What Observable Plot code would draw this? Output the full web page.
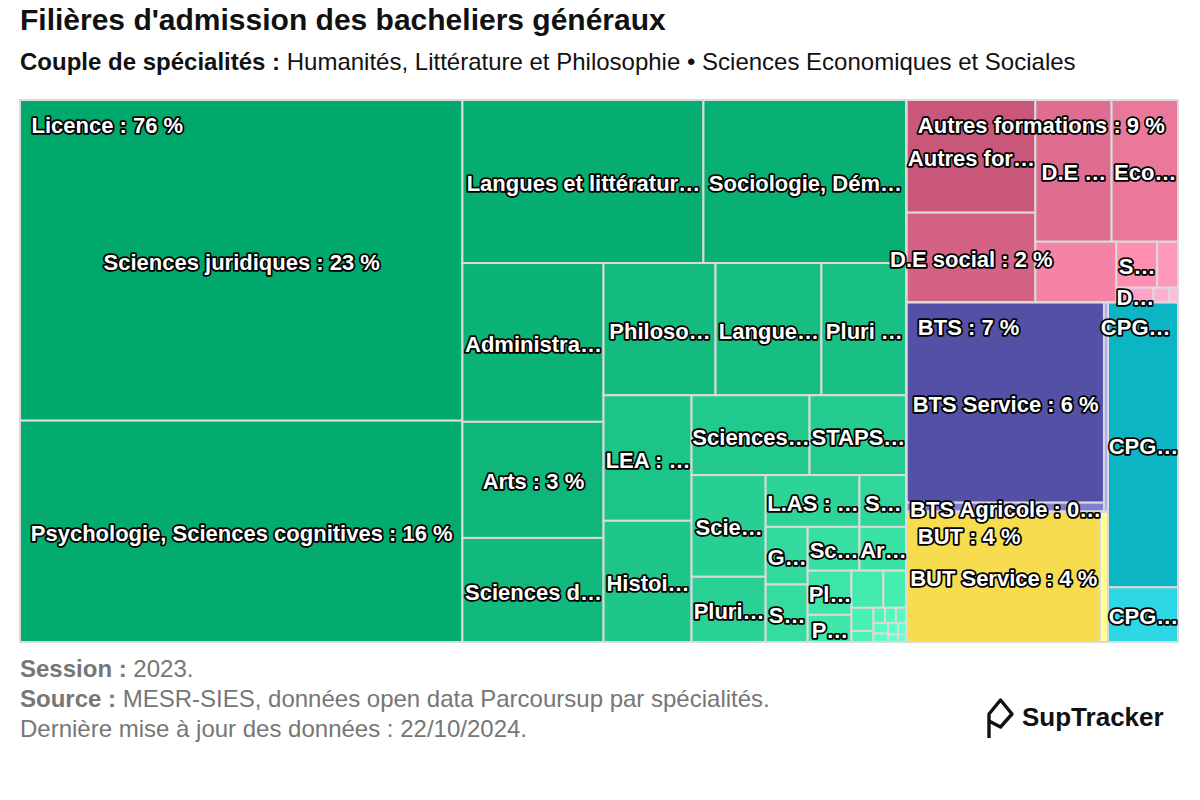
<!DOCTYPE html>
<html lang="fr">
<head>
<meta charset="utf-8">
<script src="https://cdn.jsdelivr.net/npm/d3@7"></script>
<script src="https://cdn.jsdelivr.net/npm/@observablehq/plot@0.6"></script>
<style>
  html, body { margin: 0; padding: 0; background: #fff; }
  body { width: 1200px; height: 800px; position: relative; overflow: hidden;
         font-family: "Liberation Sans", Arial, Helvetica, sans-serif; }
  .abs { position: absolute; white-space: nowrap; }
  #title { left: 20px; top: 5px; font-size: 30px; line-height: 30px; font-weight: bold; color: #111; }
  #subtitle { left: 20px; top: 50px; font-size: 24px; line-height: 24px; color: #111; }
  #chart { left: 0; top: 99px; }
  #footer { left: 20px; top: 654px; font-size: 24px; line-height: 30px; color: #767676; }
  #logo { left: 984px; top: 694px; display: flex; align-items: center; }
  #logo span { font-size: 26px; font-weight: bold; color: #111; margin-left: 4px; }
</style>
</head>
<body>
<div id="title" class="abs">Filières d'admission des bacheliers généraux</div>
<div id="subtitle" class="abs"><b>Couple de spécialités :</b> Humanités, Littérature et Philosophie • Sciences Economiques et Sociales</div>
<div id="chart" class="abs"></div>
<div id="footer" class="abs"><b>Session :</b> 2023.<br><b>Source :</b> MESR-SIES, données open data Parcoursup par spécialités.<br>Dernière mise à jour des données : 22/10/2024.</div>
<div id="logo" class="abs">
  <svg width="34" height="46" viewBox="984 694 34 46"><path d="M989,738 L989,714 L1000.5,700 L1012,714 L1000.5,727 L989,721" fill="none" stroke="#111" stroke-width="3.4" stroke-linejoin="round" stroke-linecap="butt"/></svg>
  <span>SupTracker</span>
</div>
<script>
// ---------------- DATA (share of admitted candidates, %) ----------------
const groupNames  = ["Licence", "Autres formations", "BTS", "BUT", "CPGE"];
const groupLabels = ["Licence : 76 %", "Autres formations : 9 %", "BTS : 7 %", "BUT : 4 %", "CPGE : 4 %"];

const licenceLabels = [
  "Sciences juridiques : 23 %", "Psychologie, Sciences cognitives : 16 %",
  "Langues et littératur…", "Sociologie, Dém…",
  "Administra…", "Arts : 3 %", "Sciences d…",
  "Philoso…", "Langue…", "Pluri …",
  "LEA : …", "Histoi…",
  "Sciences…", "STAPS…",
  "Scie…", "Pluri…",
  "L.AS : …", "S…",
  "G…", "S…",
  "Sc…", "Ar…",
  "Pl…", "P…",
  "", "", "", "", "", "", "", "", "", "", "", "", ""
];
const licenceValues = [
  22.6, 15.6,
  6.26, 5.27,
  3.57, 2.61, 2.34,
  2.36, 2.23, 1.79,
  1.76, 1.70,
  1.50, 1.23,
  1.20, 0.77,
  0.774, 0.387,
  0.386, 0.385,
  0.362, 0.327,
  0.308, 0.189,
  0.189, 0.136, 0.081, 0.039, 0.028, 0.026, 0.025, 0.025, 0.02, 0.018, 0.015, 0.012, 0.01
];

const autresLabels = ["Autres for…", "D.E social : 2 %", "D.E …", "Eco…", "", "S…", "", "D…", "", ""];
const autresValues = [2.316, 1.842, 1.72, 1.50, 0.78, 0.299, 0.153, 0.086, 0.036, 0.021];

const btsLabels = ["BTS Service : 6 %", "BTS Agricole : 0…", ""];
const btsValues = [6.31, 0.284, 0.134];

const butLabels = ["BUT Service : 4 %", ""];
const butValues = [4.02, 0.166];

const cpgeLabels = ["CPG…", "CPG…"];
const cpgeValues = [3.18, 0.61];

const childLabels = [licenceLabels, autresLabels, btsLabels, butLabels, cpgeLabels];
const childValues = [licenceValues, autresValues, btsValues, butValues, cpgeValues];

// ---------------- STYLE ----------------
const groupColors = ["#00a86b", "#c8577a", "#5450a6", "#f6dc4e", "#0bb5c4"];
const colorVariation = [0.4, 0.43, 0.53, 0.53, 0.27];
const FONT = "'Liberation Sans', Arial, Helvetica, sans-serif";
const LABEL_SIZE = 22;

// ---------------- LAYOUT (squarified, alternating direction) ----------------
const W = 1158, H = 542;

function makeGroup(h, w, d, plot) {
  const ar = (a, b) => Math.max(a / b, b / a);
  const g = { height: h, width: w, plot, direction: d, total: 0, nW: 0, lW: 0, nH: 0, lH: 0, elArr: [],
              lP: { total: 0, lH: 0, nH: 0, lW: 0, nW: 0, nR: 0, lR: 0 } };
  g.addElement = el => {
    g.lP.total = g.elArr[g.elArr.length - 1];
    g.total += el;
    if (g.direction === 0) {
      g.lW = g.nW;
      g.lP.lH = g.lP.total / g.lW;
      g.lP.lR = ar(g.lW, g.lP.lH);
      g.nW = g.total / g.height;
      g.lP.nH = g.lP.total / g.nW;
      g.lP.nR = ar(g.nW, g.lP.nH);
    } else {
      g.lH = g.nH;
      g.lP.lW = g.lP.total / g.lH;
      g.lP.lR = ar(g.lP.lW, g.lH);
      g.nH = g.total / g.width;
      g.lP.nW = g.lP.total / g.nH;
      g.lP.nR = ar(g.lP.nW, g.nH);
    }
    g.elArr.push(el);
  };
  g.reset = () => { g.nW = 0; g.lW = 0; g.elArr = []; g.total = 0; };
  return g;
}
function calcPoints(last, g, out) {
  const plot = g.plot;
  let gW = g.lW, gH = g.lH, keep;
  if (last) { gW = g.nW; gH = g.nH; } else { keep = g.elArr[g.elArr.length - 1]; }
  const end = g.elArr.length - 1;
  g.elArr.forEach((p, i) => {
    if (last || i < end) {
      let pW, pH;
      if (g.direction === 0) { pW = gW; pH = p / pW; } else { pH = gH; pW = p / pH; }
      out.push({ x: plot.x, y: plot.y, width: pW, height: pH });
      if (g.direction === 0) plot.y += pH; else plot.x += pW;
    }
  });
  g.reset();
  if (g.direction === 0) g.width -= gW; else g.height -= gH;
  plot.y = plot.parent.y + (plot.parent.height - g.height);
  plot.x = plot.parent.x + (plot.parent.width - g.width);
  g.direction = 1 - g.direction;
  if (!last) g.addElement(keep);
}
function tile(parent, values) {
  const total = d3.sum(values);
  const out = [];
  const plot = { x: parent.x, y: parent.y, parent };
  const g = makeGroup(parent.height, parent.width, 0, plot);
  values.forEach((v, i) => {
    g.addElement(parent.width * parent.height * (v / total));
    if (g.lP.nR > g.lP.lR) calcPoints(false, g, out);
    if (i === values.length - 1) calcPoints(true, g, out);
  });
  return out;
}

function brighten(hex, a) {
  const c = d3.rgb(hex), k = Math.round(a * 255);
  const cl = v => Math.max(0, Math.min(255, v + k));
  return d3.rgb(cl(c.r), cl(c.g), cl(c.b)).formatHex();
}

const groupValues = childValues.map(v => d3.sum(v));
const groupRects = tile({ x: 0, y: 0, width: W, height: H }, groupValues);

const groups = [], leaves = [];
groupRects.forEach((r, gi) => {
  groups.push({ x0: r.x, y0: r.y, x1: r.x + r.width, y1: r.y + r.height, name: groupNames[gi], label: groupLabels[gi] });
  const kids = tile(r, childValues[gi]);
  const n = kids.length;
  kids.forEach((k, i) => {
    leaves.push({
      x0: k.x, y0: k.y, x1: k.x + k.width, y1: k.y + k.height,
      label: childLabels[gi][i], value: childValues[gi][i],
      color: brighten(groupColors[gi], colorVariation[gi] * i / n)
    });
  });
});

// group label: left aligned, kept inside the plotting area (truncated if needed)
const ctx = document.createElement("canvas").getContext("2d");
ctx.font = `bold ${LABEL_SIZE}px ${FONT}`;
groups.forEach(g => {
  let t = g.label;
  const avail = g.x1 - g.x0;
  if (ctx.measureText(t).width > avail + 4) {
    while (t.length > 1 && ctx.measureText(t + "…").width > avail) t = t.slice(0, -1);
    t = t.trimEnd() + "…";
  }
  g.shown = t;
  const w = ctx.measureText(t).width;
  g.lx = Math.min(g.x0 + 11, W - 8 - w);
});

const chart = Plot.plot({
  width: 1200, height: 546,
  marginLeft: 20, marginRight: 22, marginTop: 1, marginBottom: 3,
  x: { domain: [0, W], range: [20, 1178], axis: null },
  y: { domain: [0, H], range: [1, 543], axis: null },
  color: { type: "identity" },
  style: { fontFamily: FONT, background: "white", overflow: "visible" },
  marks: [
    Plot.rect(leaves, { x1: "x0", x2: "x1", y1: "y0", y2: "y1", fill: "color", stroke: "#dadada", strokeWidth: 2 }),
    Plot.rect(groups, { x1: "x0", x2: "x1", y1: "y0", y2: "y1", fill: "none", stroke: "#dadada", strokeWidth: 2 }),
    Plot.text(leaves.filter(d => d.label), {
      x: d => (d.x0 + d.x1) / 2, y: d => (d.y0 + d.y1) / 2 + 2, text: "label",
      fill: "white", stroke: "black", strokeWidth: 3.6, strokeLinejoin: "round",
      fontWeight: "bold", fontSize: LABEL_SIZE
    }),
    Plot.text(groups, {
      x: "lx", y: d => d.y0 + 25, text: "shown", textAnchor: "start",
      fill: "white", stroke: "black", strokeWidth: 3.6, strokeLinejoin: "round",
      fontWeight: "bold", fontSize: LABEL_SIZE
    })
  ]
});
document.getElementById("chart").appendChild(chart);
</script>
</body>
</html>
